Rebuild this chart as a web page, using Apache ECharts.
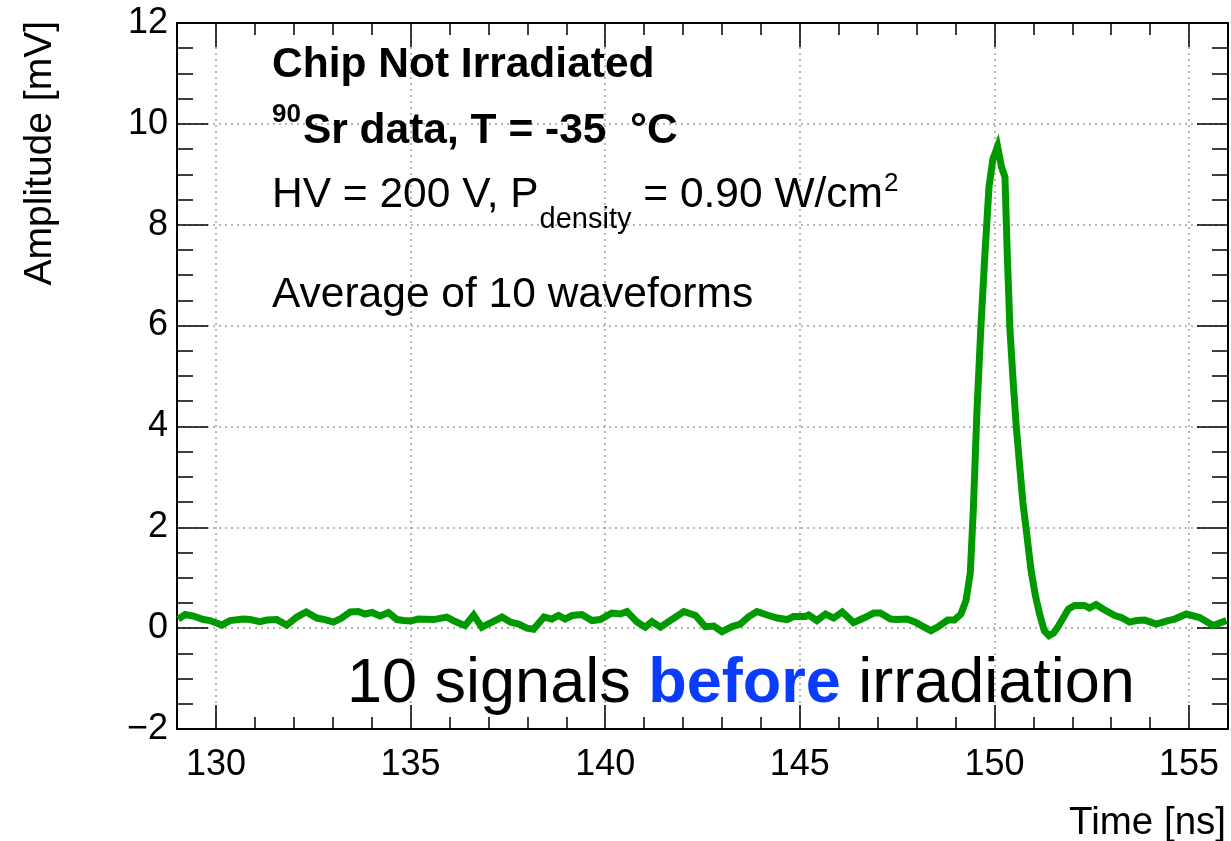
<!DOCTYPE html>
<html><head><meta charset="utf-8">
<script src="https://cdn.jsdelivr.net/npm/echarts@6/dist/echarts.min.js"></script>
<style>html,body{margin:0;padding:0;background:#fff}#c{width:1231px;height:841px}</style>
</head><body><div id="c"></div>
<script>
// ---- data ----
const timeNs = [
129.03,129.21,129.42,129.68,129.85,130.15,130.36,130.70,130.88,131.13,131.31,131.56,131.82,132.08,132.32,132.59,132.80,133.02,133.23,133.45,
133.66,133.83,134.01,134.22,134.43,134.65,134.82,134.99,135.20,135.59,135.93,136.15,136.40,136.62,136.83,137.09,137.35,137.56,137.78,137.99,
138.16,138.43,138.63,138.80,138.97,139.15,139.40,139.66,139.87,140.17,140.39,140.56,140.82,141.03,141.20,141.42,141.63,142.02,142.32,142.57,
142.79,143.00,143.26,143.47,143.69,143.90,144.16,144.42,144.67,144.84,145.14,145.23,145.44,145.66,145.87,146.09,146.38,146.64,146.90,147.07,
147.33,147.50,147.75,147.97,148.10,148.37,148.54,148.80,148.97,149.14,149.27,149.38,149.46,149.55,149.65,149.75,149.86,149.96,150.08,150.18,
150.27,150.33,150.40,150.48,150.56,150.65,150.73,150.84,150.94,151.05,151.16,151.28,151.40,151.52,151.65,151.78,151.90,152.06,152.31,152.44,
152.61,152.79,153.09,153.26,153.47,153.65,153.86,154.16,154.46,154.63,154.93,155.27,155.62,155.96
];
const amplitudeMv = [
0.18,0.27,0.24,0.17,0.15,0.06,0.15,0.18,0.17,0.13,0.16,0.17,0.06,0.22,0.32,0.20,0.17,0.12,0.20,0.32,
0.33,0.28,0.31,0.24,0.31,0.17,0.15,0.14,0.18,0.17,0.22,0.13,0.05,0.26,0.02,0.12,0.22,0.12,0.08,0.00,
-0.02,0.22,0.18,0.25,0.18,0.25,0.27,0.15,0.17,0.30,0.28,0.33,0.12,0.02,0.13,0.02,0.13,0.33,0.25,0.03,
0.04,-0.07,0.03,0.08,0.23,0.33,0.26,0.20,0.17,0.23,0.23,0.26,0.15,0.28,0.20,0.32,0.11,0.20,0.30,0.30,
0.18,0.17,0.18,0.12,0.06,-0.05,0.02,0.16,0.16,0.28,0.55,1.10,2.40,4.30,5.95,7.35,8.75,9.30,9.55,9.15,
8.95,7.40,5.90,4.90,4.00,3.20,2.50,1.80,1.15,0.65,0.28,-0.05,-0.15,-0.10,0.05,0.22,0.38,0.45,0.45,0.40,
0.47,0.38,0.25,0.21,0.12,0.15,0.16,0.08,0.15,0.18,0.28,0.21,0.05,0.15
];
const xRange = [129, 156];
const yRange = [-2, 12];
const xTitle = 'Time [ns]';
const yTitle = 'Amplitude [mV]';
const textLines = ['Chip Not Irradiated', '90', 'Sr data, T = -35  \u00B0C', 'HV = 200 V, P', 'density', ' = 0.90 W/cm', '2', 'Average of 10 waveforms'];
const bottomText = ['10 signals ', 'before', ' irradiation'];

// ---- chart ----
const FF = '"Liberation Sans", Arial, Helvetica, sans-serif';
const cv = document.createElement('canvas').getContext('2d');
function tw(t, size, bold) { cv.font = (bold ? 'bold ' : '') + size + 'px "Liberation Sans"'; return cv.measureText(t).width; }
function txt(t, x, y, size, bold, color, align, rot) {
  const el = { type: 'text', x: x, y: y, z: 100, silent: true,
    style: { text: t, fontSize: size, fontWeight: bold ? 'bold' : 'normal', fontFamily: FF, fill: color || '#000',
      textAlign: align || 'left', textVerticalAlign: 'middle', align: align || 'left', verticalAlign: 'middle' } };
  if (rot) el.rotation = rot;
  return el;
}
const graphics = [];
const X0 = 272, FS = 42.5, SS = 26, DY = 3;
graphics.push(txt(textLines[0], X0, 62 + DY, FS, true));
graphics.push(txt(textLines[1], X0, 112 + DY, SS, true));
graphics.push(txt(textLines[2], X0 + tw(textLines[1], SS, true) + 2, 128 + DY, FS, true));
const w3 = tw(textLines[3], FS, false);
graphics.push(txt(textLines[3], X0, 192 + DY, FS, false));
graphics.push(txt(textLines[4], X0 + w3 + 1, 217 + DY, 29, false));
const xEq = X0 + w3 + 1 + tw(textLines[4], 29, false);
graphics.push(txt(textLines[5], xEq, 192 + DY, FS, false));
graphics.push(txt(textLines[6], xEq + tw(textLines[5], FS, false) + 1, 181 + DY, SS, false));
graphics.push(txt(textLines[7], X0, 292 + DY, FS, false));
const BS = 63, BX = 347, BY = 685;
const wb0 = tw(bottomText[0], BS, false), wb1 = tw(bottomText[1], BS, true);
graphics.push(txt(bottomText[0], BX, BY, BS, false));
graphics.push(txt(bottomText[1], BX + wb0, BY, BS, true, '#0a3cff'));
graphics.push(txt(bottomText[2], BX + wb0 + wb1, BY, BS, false));
graphics.push(txt(xTitle, 1226, 823, 38.5, false, '#000', 'right'));
graphics.push(txt(yTitle, 40, 21, 39, false, '#000', 'right', Math.PI / 2));

const tickStyle = { color: '#000', width: 1.5 };
const lineAx = { show: true, onZero: false, lineStyle: { color: '#000', width: 2 } };
const grid = { show: true, lineStyle: { color: '#a0a0a0', type: [2, 4], width: 1.5 } };
const labelFont = { fontFamily: FF, fontSize: 36, color: '#000' };
function xAx(pos, main) {
  return { type: 'value', position: pos, min: xRange[0], max: xRange[1], minInterval: 5, maxInterval: 5, splitNumber: 5,
    axisLine: lineAx, axisTick: { show: true, inside: true, length: 24, lineStyle: tickStyle },
    minorTick: { show: true, splitNumber: 5, length: 12, lineStyle: tickStyle },
    axisLabel: Object.assign({ show: main, margin: 18, showMinLabel: false, showMaxLabel: false }, labelFont),
    splitLine: main ? grid : { show: false } };
}
function yAx(pos, main) {
  return { type: 'value', position: pos, min: yRange[0], max: yRange[1], interval: 2,
    axisLine: lineAx, axisTick: { show: true, inside: true, length: 31, lineStyle: tickStyle },
    minorTick: { show: true, splitNumber: 4, length: 16, lineStyle: tickStyle },
    axisLabel: Object.assign({ show: main, margin: 9, formatter: v => (v < 0 ? '\u2212' + (-v) : '' + v) }, labelFont),
    splitLine: main ? grid : { show: false } };
}
const chart = echarts.init(document.getElementById('c'), null, { renderer: 'canvas' });
chart.setOption({
  animation: false,
  backgroundColor: '#fff',
  grid: { left: 177, top: 23, right: 3, bottom: 112, containLabel: false },
  xAxis: [xAx('bottom', true), xAx('top', false)],
  yAxis: [yAx('left', true), yAx('right', false)],
  series: [{
    type: 'line', xAxisIndex: 0, yAxisIndex: 0, showSymbol: false, symbol: 'none',
    data: timeNs.map((t, i) => [t, amplitudeMv[i]]),
    lineStyle: { color: '#009900', width: 7, join: 'miter' }, z: 5
  }],
  graphic: graphics
});
</script></body></html>
